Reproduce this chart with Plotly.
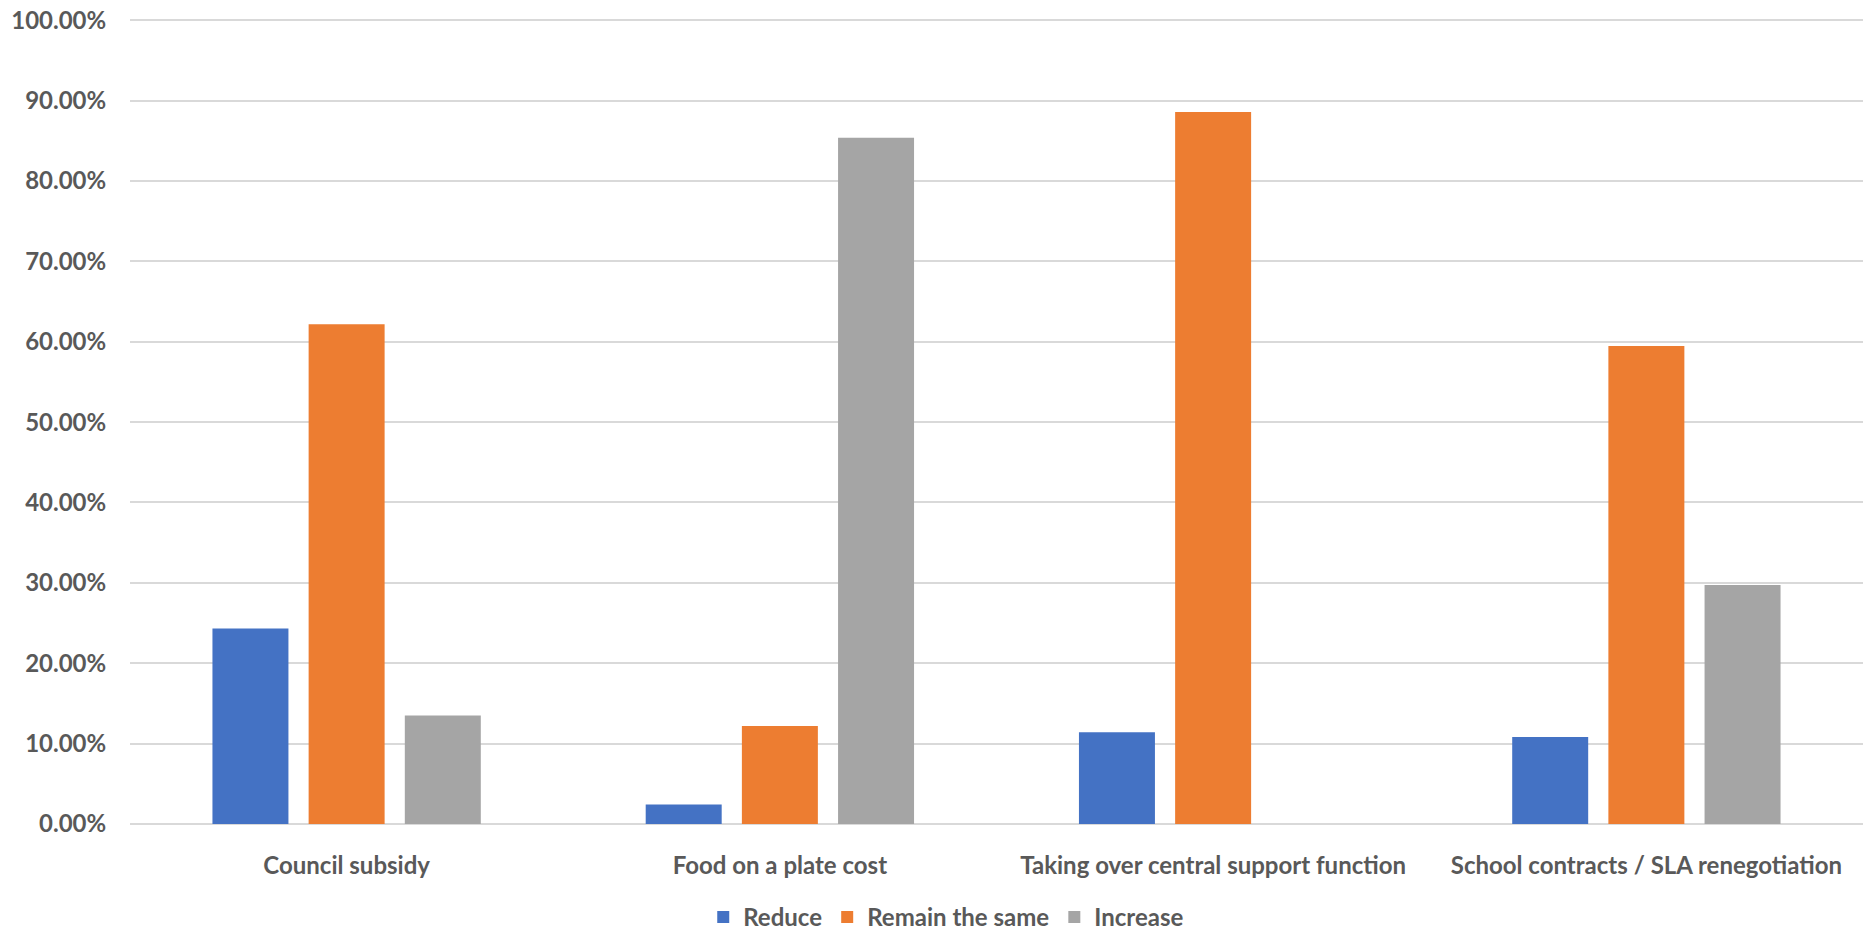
import plotly.graph_objects as go

categories = ["Council subsidy", "Food on a plate cost",
              "Taking over central support function",
              "School contracts / SLA renegotiation"]
reduce_vals = [0.2432, 0.0244, 0.1143, 0.1081]
remain_vals = [0.6216, 0.1220, 0.8857, 0.5946]
increase_vals = [0.1351, 0.8537, 0.0, 0.2973]

series_names = ["Reduce", "Remain the same", "Increase"]
series_colors = ["#4472C4", "#ED7D31", "#A5A5A5"]

FONT = "Lato"
TXT = "#595959"
FS = 24
YMAX = 1.004

fig = go.Figure()
for name, vals, col in zip(series_names, [reduce_vals, remain_vals, increase_vals], series_colors):
    fig.add_trace(go.Bar(x=categories, y=vals, name=name,
                         marker=dict(color=col, line=dict(width=0))))

fig.update_layout(
    width=1863, height=931,
    paper_bgcolor="white", plot_bgcolor="white",
    margin=dict(l=130, r=0, t=17, b=107, autoexpand=False),
    barmode="group", bargap=0.334, bargroupgap=0.21,
    font=dict(family=FONT, color=TXT, size=FS, weight="bold"),
    showlegend=True,
    legend=dict(orientation="h", x=0.471, xanchor="center",
                y=-0.1156, yanchor="middle", itemwidth=30,
                font=dict(family=FONT, color=TXT, size=FS, weight="bold"),
                bgcolor="rgba(0,0,0,0)"),
)
fig.update_yaxes(range=[0, YMAX], dtick=0.1, tick0=0, tickformat=".2%",
                 showgrid=True, gridcolor="#D9D9D9", gridwidth=2,
                 zeroline=True, zerolinecolor="#D9D9D9", zerolinewidth=2,
                 showline=False, ticks="outside", ticklen=18,
                 tickcolor="rgba(0,0,0,0)",
                 tickfont=dict(family=FONT, color=TXT, size=FS, weight="bold"))
fig.update_xaxes(showgrid=False, showline=False, ticks="outside", ticklen=20,
                 tickcolor="rgba(0,0,0,0)",
                 tickfont=dict(family=FONT, color=TXT, size=FS, weight="bold"))

fig.write_html("out.html", config={"displayModeBar": False},
               post_script="document.body.style.margin='0';document.body.style.overflow='hidden';")
